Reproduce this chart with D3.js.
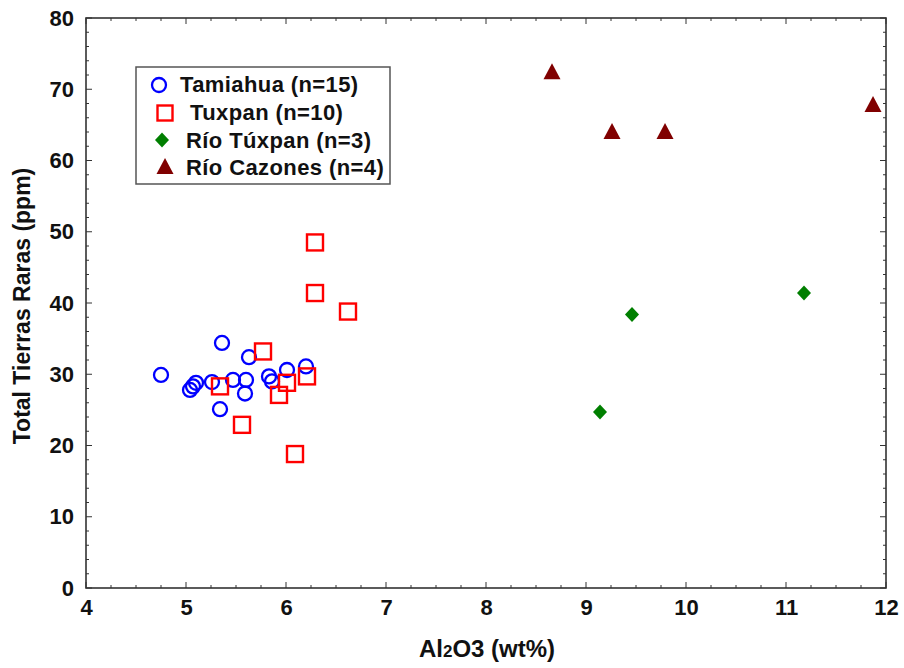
<!DOCTYPE html>
<html><head><meta charset="utf-8">
<script src="https://cdn.jsdelivr.net/npm/d3@7"></script>
<style>body{margin:0;background:#fff}svg{display:block}text{font-family:"Liberation Sans",Arial,sans-serif;font-weight:bold}</style>
</head><body>
<svg id="c" width="904" height="668"></svg>
<script>
const xTicks=[4,5,6,7,8,9,10,11,12];
const yTicks=[0,10,20,30,40,50,60,70,80];
const tamiahua=[[4.75,29.9],[5.04,27.8],[5.07,28.3],[5.10,28.8],[5.26,28.9],[5.36,34.4],[5.34,25.1],[5.47,29.2],[5.60,29.2],[5.59,27.3],[5.63,32.4],[5.83,29.7],[5.86,29.0],[6.01,30.6],[6.20,31.1]];
const tuxpan=[[6.29,48.5],[6.29,41.4],[6.62,38.8],[5.77,33.2],[5.34,28.3],[6.01,28.8],[5.93,27.1],[6.21,29.7],[5.56,22.9],[6.09,18.8]];
const rioTuxpan=[[9.14,24.7],[9.46,38.4],[11.18,41.4]];
const rioCazones=[[8.66,72.4],[9.26,64.0],[9.79,64.0],[11.87,67.8]];
const legendLabels=["Tamiahua (n=15)","Tuxpan (n=10)","Río Túxpan (n=3)","Río Cazones (n=4)"];

const svg=d3.select("#c");
const L=86,R=886,T=18,B=588;
const x=d3.scaleLinear().domain([4,12]).range([L,R]);
const y=d3.scaleLinear().domain([0,80]).range([B,T]);
const axisColor="#333";
const FONT='"Liberation Sans",Arial,sans-serif';

svg.append("rect").attr("x",L).attr("y",T).attr("width",R-L).attr("height",B-T).attr("fill","none").attr("stroke",axisColor).attr("stroke-width",1.6);

const xMinor=d3.range(4,12.001,0.25);
const yMinor=d3.range(0,80.001,2);
const g1=svg.append("g").attr("stroke",axisColor).attr("stroke-width",1);
xMinor.forEach(v=>{const major=Math.abs(v-Math.round(v))<1e-6;const len=major?6:3;
  g1.append("line").attr("x1",x(v)).attr("x2",x(v)).attr("y1",B).attr("y2",B-len);
  g1.append("line").attr("x1",x(v)).attr("x2",x(v)).attr("y1",T).attr("y2",T+len);});
yMinor.forEach(v=>{const major=v%10===0;const len=major?6:3;
  g1.append("line").attr("y1",y(v)).attr("y2",y(v)).attr("x1",L).attr("x2",L+len);
  g1.append("line").attr("y1",y(v)).attr("y2",y(v)).attr("x1",R).attr("x2",R-len);});

const xa=svg.append("g").attr("transform",`translate(0,${B})`).call(d3.axisBottom(x).tickValues(xTicks).tickSize(0).tickPadding(11).tickFormat(d3.format("d")));
xa.select(".domain").remove();
xa.selectAll("text").attr("font-size",22).attr("fill","#111").attr("font-family",FONT).attr("font-weight","bold").attr("dy","0.71em");
const ya=svg.append("g").attr("transform",`translate(${L},0)`).call(d3.axisLeft(y).tickValues(yTicks).tickSize(0).tickPadding(12).tickFormat(d3.format("d")));
ya.select(".domain").remove();
ya.selectAll("text").attr("font-size",22).attr("fill","#111").attr("font-family",FONT).attr("font-weight","bold");

const xl=svg.append("text").attr("x",487).attr("y",657).attr("text-anchor","middle").attr("font-size",24).attr("fill","#111");
xl.append("tspan").text("Al");
xl.append("tspan").attr("font-size",17).text("2");
xl.append("tspan").text("O3 (wt%)");
svg.append("text").attr("transform","translate(30,306) rotate(-90)").attr("text-anchor","middle").attr("font-size",23).attr("fill","#111").text("Total Tierras Raras (ppm)");

const circle=(g,cx,cy)=>g.append("circle").attr("cx",cx).attr("cy",cy).attr("r",7).attr("fill","none").attr("stroke","#0000ff").attr("stroke-width",2.3);
const square=(g,cx,cy)=>g.append("rect").attr("x",cx-8).attr("y",cy-8).attr("width",16).attr("height",16).attr("fill","none").attr("stroke","#ff0000").attr("stroke-width",2.4);
const diamond=(g,cx,cy)=>g.append("path").attr("d",`M${cx},${cy-7.5}L${cx+7},${cy}L${cx},${cy+7.5}L${cx-7},${cy}Z`).attr("fill","#007f00");
const tri=(g,cx,cy)=>g.append("path").attr("d",`M${cx},${cy-9}L${cx+8.5},${cy+7}L${cx-8.5},${cy+7}Z`).attr("fill","#800000");

const pg=svg.append("g");
tamiahua.forEach(d=>circle(pg,x(d[0]),y(d[1])));
tuxpan.forEach(d=>square(pg,x(d[0]),y(d[1])));
rioTuxpan.forEach(d=>diamond(pg,x(d[0]),y(d[1])));
rioCazones.forEach(d=>tri(pg,x(d[0]),y(d[1])));

const lg=svg.append("g");
lg.append("rect").attr("x",136).attr("y",67).attr("width",254).attr("height",117).attr("fill","#fff").attr("stroke","#555").attr("stroke-width",1.5);
const ly=[84,112,140,167];
const lsx=[159,165,162,165];
const ltx=[180,190,186,186];
circle(lg,lsx[0],ly[0]+1);
square(lg,lsx[1],ly[1]+1).attr("x",lsx[1]-7.5).attr("y",ly[1]-6.5).attr("width",15).attr("height",15);
diamond(lg,lsx[2],ly[2]);
tri(lg,lsx[3],ly[3]);
legendLabels.forEach((t,i)=>lg.append("text").attr("x",ltx[i]).attr("y",ly[i]).attr("dy","0.35em").attr("font-size",22).attr("letter-spacing",0.4).attr("fill","#111").text(t));
</script>
</body></html>
